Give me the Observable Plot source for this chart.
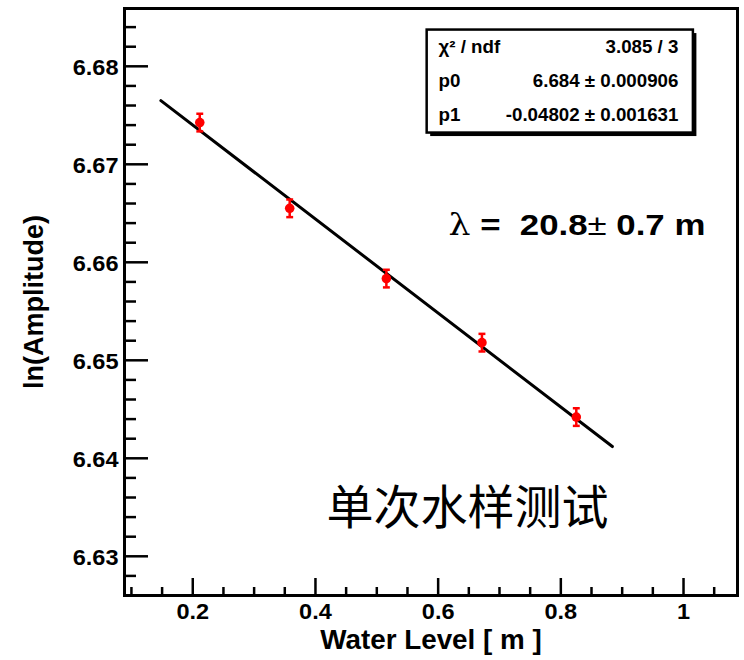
<!DOCTYPE html>
<html>
<head>
<meta charset="utf-8">
<script src="https://cdn.jsdelivr.net/npm/d3@7"></script>
<script src="https://cdn.jsdelivr.net/npm/@observablehq/plot@0.6"></script>
<style>
  html, body { margin: 0; padding: 0; background: #fff; }
</style>
</head>
<body>
<div id="chart"></div>
<script>
// ---- data ----
const waterLevel = [0.2114, 0.358, 0.5156, 0.6714, 0.8252];
const lnAmplitude = [6.67426, 6.66551, 6.65834, 6.6518, 6.64421];
const lnAmplitudeErr = [0.0009, 0.0009, 0.0009, 0.0009, 0.0009];

// fit line end points (as drawn)
const fitX = [0.148, 0.884];
const fitY = [6.6765, 6.6412];

// tick values
const xMajorTicks = [0.2, 0.4, 0.6, 0.8, 1.0];
const xMinorTicks = [0.1, 0.15, 0.25, 0.3, 0.35, 0.45, 0.5, 0.55, 0.65, 0.7, 0.75, 0.85, 0.9, 0.95, 1.05];
const yMajorTicks = [6.63, 6.64, 6.65, 6.66, 6.67, 6.68];
const yMinorTicks = [6.628, 6.632, 6.634, 6.636, 6.638, 6.642, 6.644, 6.646, 6.648,
                     6.652, 6.654, 6.656, 6.658, 6.662, 6.664, 6.666, 6.668,
                     6.672, 6.674, 6.676, 6.678, 6.682, 6.684];

// texts
const xTitle = "Water Level [ m ]";
const yTitle = "ln(Amplitude)";
const statsNames = ["χ² / ndf", "p0", "p1"];
const statsValues = ["3.085 / 3", "6.684 ± 0.000906", "-0.04802 ± 0.001631"];
const lambdaLabel = "λ =  20.8± 0.7 m";
const sampleLabel = "单次水样测试";

// ---- layout ----
const W = 744, H = 660;
const mL = 124, mR = 7, mT = 8, mB = 65;
const frameW = W - mL - mR, frameH = H - mT - mB;

const points = waterLevel.map((x, i) => ({x, y: lnAmplitude[i], e: lnAmplitudeErr[i]}));
const fitLine = fitX.map((x, i) => ({x, y: fitY[i]}));
const statsRowsY = [6.68192, 6.6785, 6.67502];
const stats = statsNames.map((n, i) => ({name: n, value: statsValues[i], y: statsRowsY[i]}));

const capSymbol = {
  draw(ctx, size) {
    const w = Math.sqrt(size);
    ctx.moveTo(-w / 2, 0);
    ctx.lineTo(w / 2, 0);
  }
};

const font = "'Liberation Sans', Arial, Helvetica, sans-serif";

const chart = Plot.plot({
  width: W,
  height: H,
  marginLeft: mL,
  marginRight: mR,
  marginTop: mT,
  marginBottom: mB,
  x: {domain: [0.0887, 1.088]},
  y: {domain: [6.626, 6.6859]},
  style: {fontFamily: font, fontWeight: "bold", fontSize: "22px", background: "white", color: "black", overflow: "visible"},
  marks: [
    // tick labels
    Plot.axisX(xMajorTicks, {tickSize: 0, tickPadding: 8, fontSize: 22, fontWeight: "bold",
      tickFormat: d => d === 1 ? "1" : d.toFixed(1), label: null}),
    Plot.axisY(yMajorTicks, {tickSize: 0, tickPadding: 6, fontSize: 22, fontWeight: "bold", dy: 2,
      tickFormat: d => d.toFixed(2), label: null}),
    // inward ticks
    Plot.tickX(xMajorTicks, {x: d => d, insetTop: frameH - 17, stroke: "black", strokeWidth: 2.5}),
    Plot.tickX(xMinorTicks, {x: d => d, insetTop: frameH - 8, stroke: "black", strokeWidth: 2.5}),
    Plot.tickY(yMajorTicks, {y: d => d, insetRight: frameW - 24, stroke: "black", strokeWidth: 2.5}),
    Plot.tickY(yMinorTicks, {y: d => d, insetRight: frameW - 12, stroke: "black", strokeWidth: 2.5}),
    // fit line
    Plot.line(fitLine, {x: "x", y: "y", stroke: "black", strokeWidth: 3}),
    // error bars
    Plot.ruleX(points, {x: "x", y1: d => d.y - d.e, y2: d => d.y + d.e, stroke: "red", strokeWidth: 2.5}),
    Plot.dot(points, {x: "x", y: d => d.y - d.e, symbol: capSymbol, r: 3.9, stroke: "red", strokeWidth: 2.5, fill: "none"}),
    Plot.dot(points, {x: "x", y: d => d.y + d.e, symbol: capSymbol, r: 3.9, stroke: "red", strokeWidth: 2.5, fill: "none"}),
    Plot.dot(points, {x: "x", y: "y", r: 4.8, fill: "red", stroke: "none"}),
    // stats box
    Plot.rect([0], {x1: 0.5821, x2: 1.0161, y1: 6.67319, y2: 6.6837, fill: "black", dx: 3.5, dy: 3.5}),
    Plot.rect([0], {x1: 0.5821, x2: 1.0161, y1: 6.67319, y2: 6.6837, fill: "white", stroke: "black", strokeWidth: 2.5}),
    Plot.text(stats, {x: 0.6005, y: "y", text: "name", textAnchor: "start", fontSize: 18, fontWeight: "bold"}),
    Plot.text(stats, {x: 0.9917, y: "y", text: "value", textAnchor: "end", fontSize: 18, fontWeight: "bold"}),
    // annotations
    Plot.text([lambdaLabel], {x: 0.6168, y: 6.66381, text: d => d, textAnchor: "start", fontSize: 30, fontWeight: "bold"}),
    Plot.text([sampleLabel], {x: 0.6478, y: 6.63483, text: d => d, fontSize: 47, fontWeight: "normal",
      fontFamily: "'Noto Sans CJK SC', sans-serif"}),
    // axis titles
    Plot.text([xTitle], {frameAnchor: "bottom", text: d => d, textAnchor: "middle", lineAnchor: "top", dy: 34, fontSize: 27, fontWeight: "bold"}),
    Plot.text([yTitle], {frameAnchor: "left", text: d => d, textAnchor: "middle", rotate: -90, dx: -90, fontSize: 27, fontWeight: "bold"}),
    // frame
    Plot.frame({stroke: "black", strokeWidth: 3})
  ]
});

document.getElementById("chart").appendChild(chart);

// style the λ label: λ and ± in a light weight, the rest bold
d3.select(chart).selectAll("text").each(function () {
  const t = d3.select(this);
  if (t.text() === lambdaLabel) {
    t.text("").style("white-space", "pre");
    t.append("tspan").attr("font-weight", "normal").attr("font-family", "'DejaVu Serif', serif").text("λ");
    t.append("tspan").text(" =  20.8");
    t.append("tspan").attr("font-weight", "normal").text("±");
    t.append("tspan").text(" 0.7 m");
    t.attr("data-kind", "lambda");
  }
});

// the reference's glyphs are slightly wide: stretch horizontal texts a little
function stretch(el, factor) {
  const len = el.getComputedTextLength();
  if (len > 0) {
    el.setAttribute("textLength", (len * factor).toFixed(1));
    el.setAttribute("lengthAdjust", "spacingAndGlyphs");
  }
}
d3.select(chart).selectAll("text").each(function () {
  const txt = this.textContent;
  const parentLabel = this.parentNode && this.parentNode.getAttribute("aria-label") || "";
  if (this.getAttribute("data-kind") === "lambda") stretch(this, 1.16);
  else if (statsNames.includes(txt) || statsValues.includes(txt)) stretch(this, 1.04);
  else if (txt === xTitle) stretch(this, 1.03);
  else if (parentLabel.includes("tick label")) stretch(this, 1.07);
});
</script>
</body>
</html>
